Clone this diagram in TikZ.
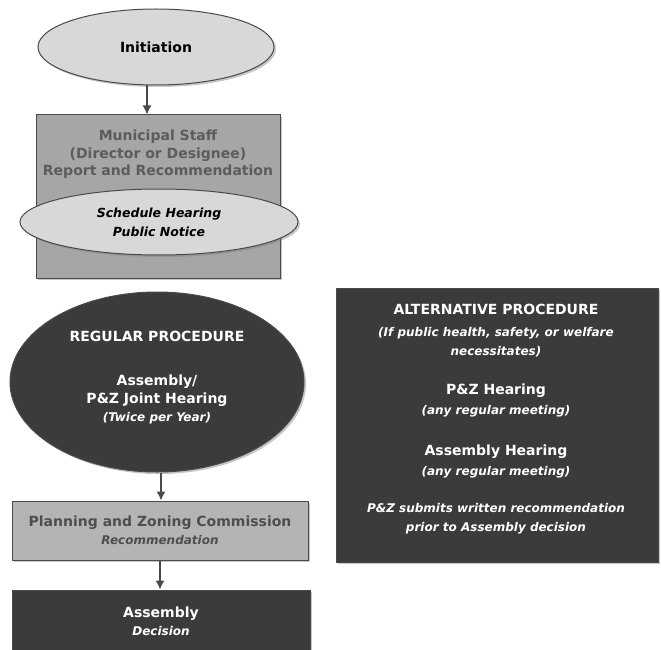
\documentclass[tikz,border=0pt]{standalone}
\usepackage{fontspec}
\setmainfont{DejaVu Sans}
\usetikzlibrary{shapes.geometric,shadows,arrows.meta}
\definecolor{darkfill}{HTML}{3B3B3B}
\definecolor{lightfill}{HTML}{D8D8D8}
\definecolor{stafffill}{HTML}{A6A6A6}
\definecolor{pzfill}{HTML}{B4B4B4}
\definecolor{edgegray}{HTML}{4A4A4A}
\definecolor{staffink}{HTML}{5C5C5C}
\definecolor{pzink}{HTML}{4E4E4E}
\newcommand{\mainsz}{\fontsize{14}{18}\selectfont\bfseries\upshape}
\newcommand{\subsz}{\fontsize{12}{19}\selectfont\bfseries\itshape}
\tikzset{
  box/.style={draw=edgegray, line width=1pt, inner sep=0pt, align=center,
    drop shadow={shadow xshift=2pt, shadow yshift=-2pt, opacity=0.45}},
  oval/.style={ellipse, draw=edgegray, line width=1pt, inner sep=0pt, align=center,
    drop shadow={shadow xshift=2pt, shadow yshift=-2pt, opacity=0.45}},
  step arrow/.style={draw=edgegray, line width=1.4pt, -{Latex[length=9pt,width=9pt]}},
}
\begin{document}
\begin{tikzpicture}[x=1pt,y=-1pt]
\useasboundingbox (0,0) rectangle (661,650);

\node[oval, fill=lightfill, minimum width=236, minimum height=76, font=\mainsz] (initiation) at (156,47) {Initiation};
\node[box, fill=stafffill, minimum width=244, minimum height=163] (staff) at (158,196.5) {};
\node[align=center, text=staffink, font=\fontsize{14}{17.5}\selectfont\bfseries] (staffinfo) at (158,154.5) {Municipal Staff\\(Director or Designee)\\Report and Recommendation};
\node[oval, fill=lightfill, minimum width=278, minimum height=66, font=\fontsize{12.5}{19}\selectfont\bfseries\itshape] (notice) at (159,222) {Schedule Hearing\\Public Notice};

\node[oval, fill=darkfill, minimum width=294, minimum height=180, text=white, font=\mainsz] (regular) at (157,382) {REGULAR PROCEDURE\\[26pt]Assembly/\\P\&Z Joint Hearing\\{\subsz (Twice per Year)}\\[-6pt]};
\node[box, fill=pzfill, minimum width=296, minimum height=59, font=\mainsz, text=pzink] (pz) at (160,530.5) {Planning and Zoning Commission\\{\subsz Recommendation}};
\node[box, fill=darkfill, minimum width=298, minimum height=62, font=\mainsz, text=white] (assembly) at (161,621) {Assembly\\{\subsz Decision}};

\node[box, fill=darkfill, minimum width=322, minimum height=274] (alt) at (497,425) {};
\node[align=center, text=white, font=\subsz] (altinfo) at (496,419.5) {{\mainsz ALTERNATIVE PROCEDURE}\\[3pt](If public health, safety, or welfare\\necessitates)\\[20pt]{\mainsz P\&Z Hearing}\\[1pt](any regular meeting)\\[22pt]{\mainsz Assembly Hearing}\\[1pt](any regular meeting)\\[18pt]P\&Z submits written recommendation\\prior to Assembly decision};

\path[step arrow] ([xshift=-9pt]initiation.south) -- ([xshift=-9pt]initiation.south |- staff.north);
\path[step arrow] ([xshift=4pt]regular.south) -- ([xshift=4pt]regular.south |- pz.north);
\path[step arrow] (pz.south) -- (pz.south |- assembly.north);
\end{tikzpicture}
\end{document}
